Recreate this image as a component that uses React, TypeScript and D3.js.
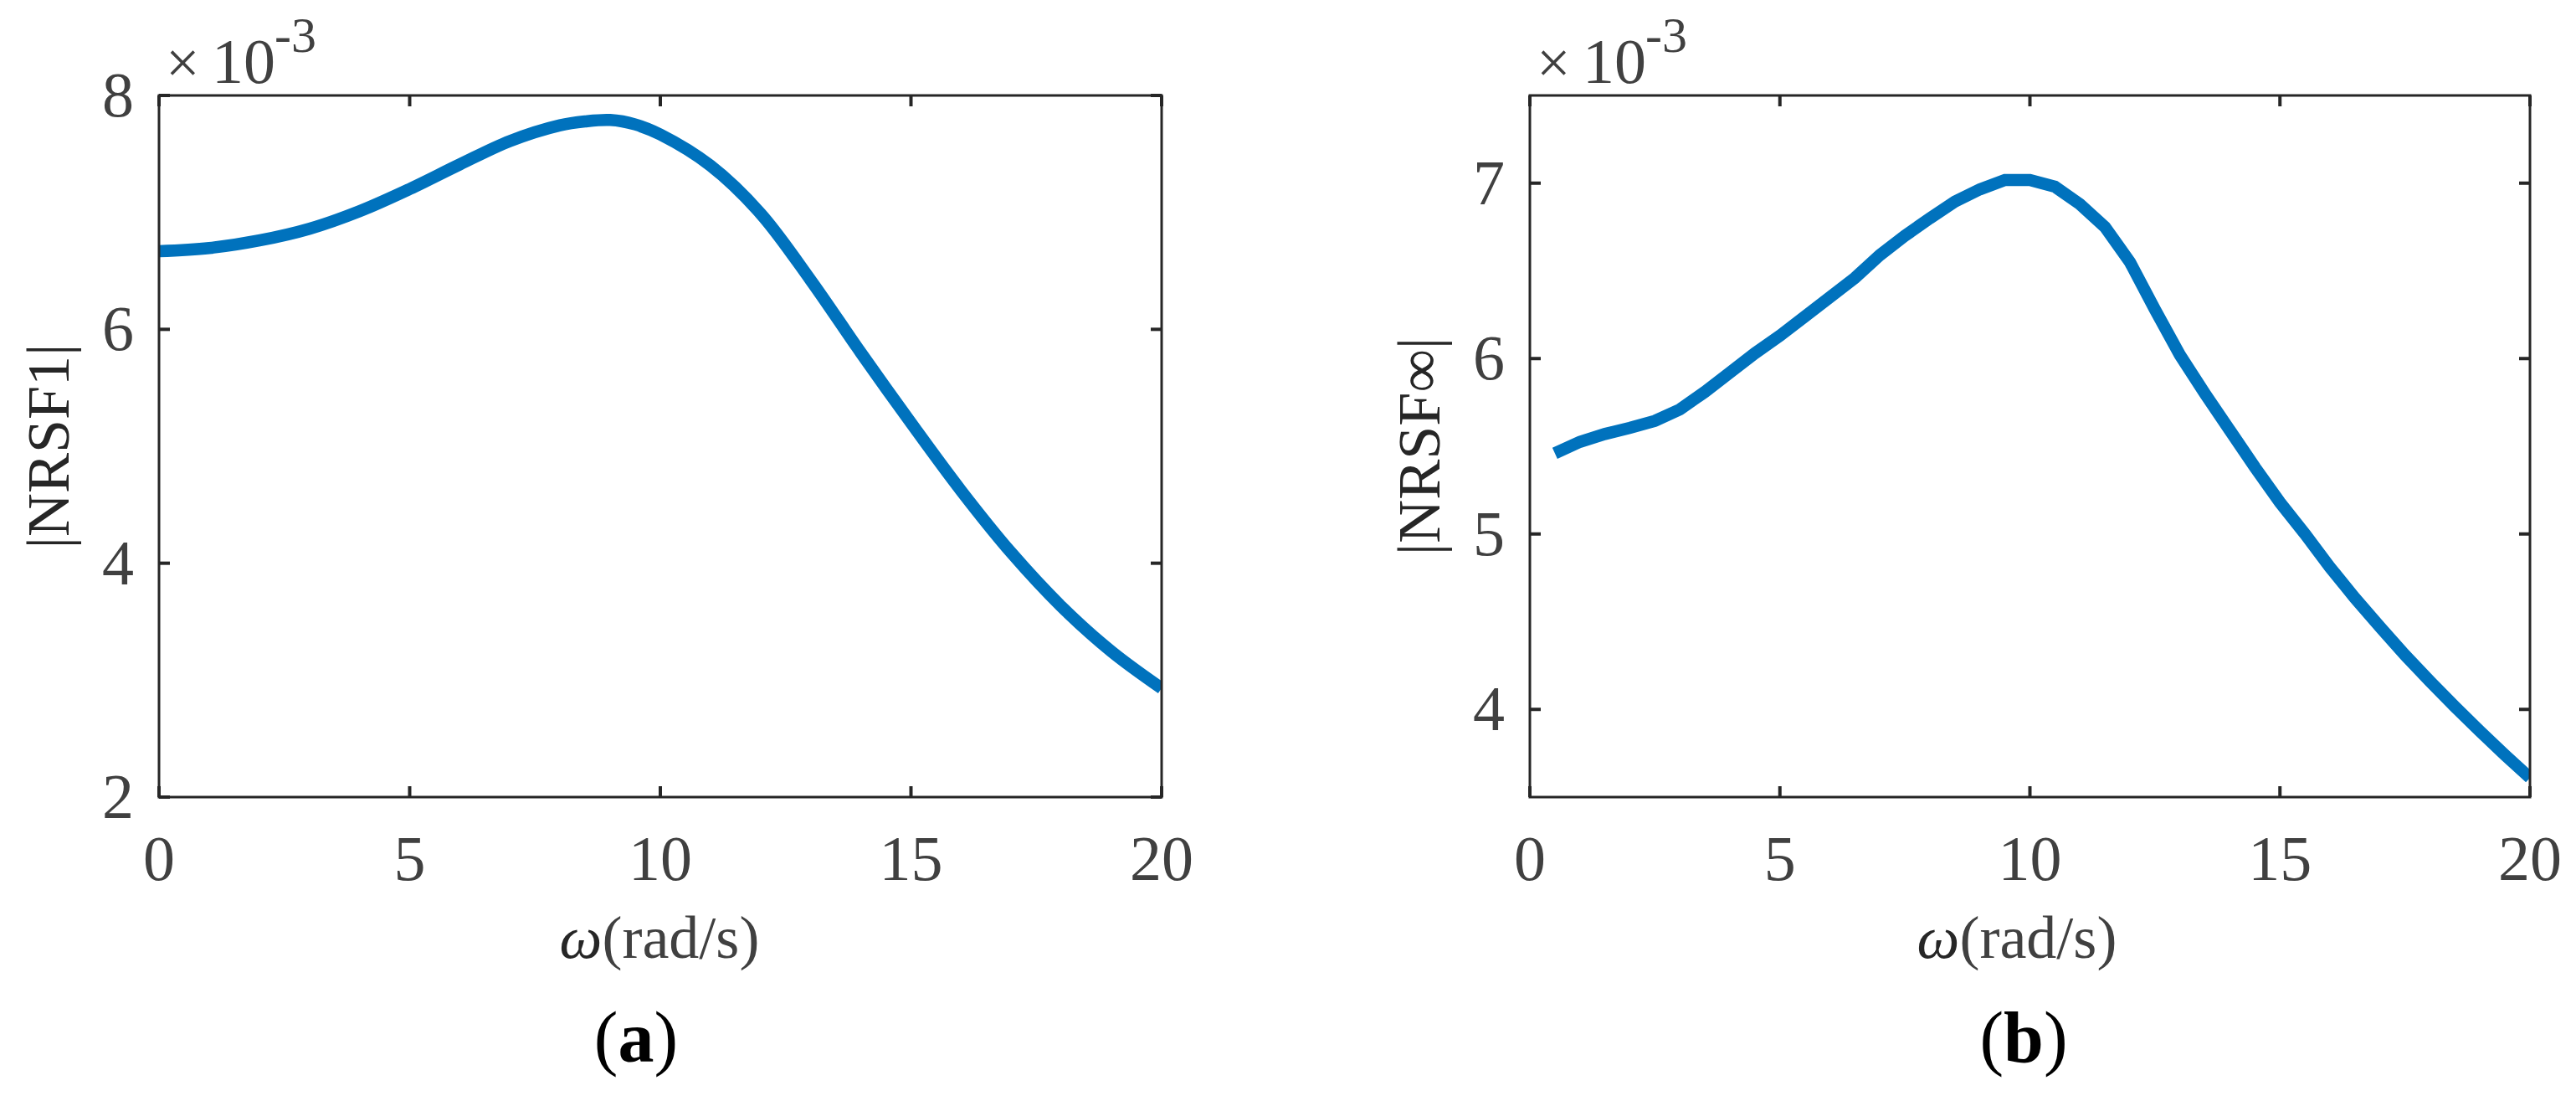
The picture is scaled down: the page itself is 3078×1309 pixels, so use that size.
import React from "react";
import * as d3 from "d3";

// ---- data ----
const omegaA = [0, 1, 2, 3, 4, 5, 6, 7, 8, 8.5, 9, 9.5, 10, 11, 12, 13, 14, 15, 16, 17, 18, 19, 20];
const nrsf1 = [6.668, 6.695, 6.76, 6.86, 7.01, 7.20, 7.41, 7.61, 7.745, 7.778, 7.79, 7.752, 7.666, 7.40, 6.99, 6.42, 5.80, 5.20, 4.62, 4.09, 3.63, 3.245, 2.93];

const omegaB = [0.5, 1, 1.5, 2, 2.5, 3, 3.5, 4, 4.5, 5, 5.5, 6, 6.5, 7, 7.5, 8, 8.5, 9, 9.5, 10, 10.5, 11, 11.5, 12, 12.5, 13, 13.5, 14, 14.5, 15, 15.5, 16, 16.5, 17, 17.5, 18, 18.5, 19, 19.5, 20];
const nrsfInf = [5.46, 5.525, 5.57, 5.605, 5.645, 5.71, 5.81, 5.92, 6.03, 6.13, 6.24, 6.35, 6.46, 6.59, 6.70, 6.80, 6.895, 6.965, 7.018, 7.018, 6.98, 6.88, 6.75, 6.55, 6.28, 6.02, 5.80, 5.59, 5.38, 5.18, 5.00, 4.81, 4.635, 4.47, 4.31, 4.16, 4.015, 3.875, 3.74, 3.61];

const xTicks = [0, 5, 10, 15, 20];
const yTicksA = [2, 4, 6, 8];
const yTicksB = [4, 5, 6, 7];
const yDomainA: [number, number] = [2, 8];
const yDomainB: [number, number] = [3.5, 7.5];
const xDomain: [number, number] = [0, 20];
const yLabelA = "|NRSF1|";
const yLabelB = "|NRSF\u221E|";
const panelTags = ["a", "b"];

const FONT = "'Liberation Serif', 'Times New Roman', serif";
const AXIS = "#262626";
const TXT = "#404040";
const BLUE = "#0072BD";

type PanelProps = {
  left: number; right: number; top: number; bottom: number;
  xs: number[]; ys: number[]; yDomain: [number, number]; yTicks: number[];
  yLabel: string; tag: string; tagX: number; xLabelX: number; curve: any;
};

function Panel(p: PanelProps) {
  const x = d3.scaleLinear().domain(xDomain).range([p.left, p.right]);
  const y = d3.scaleLinear().domain(p.yDomain).range([p.bottom, p.top]);
  const pts = p.xs.map((v, i) => [v, p.ys[i]] as [number, number]);
  const line = d3.line<[number, number]>().x(d => x(d[0])).y(d => y(d[1])).curve(p.curve);
  const tl = 13;
  const cy = (p.top + p.bottom) / 2;
  return (
    <g>
      <defs>
        <clipPath id={"clip" + p.tag}>
          <rect x={p.left} y={p.top} width={p.right - p.left} height={p.bottom - p.top} />
        </clipPath>
      </defs>
      <path d={line(pts) || ""} fill="none" stroke={BLUE} strokeWidth={14.5} clipPath={`url(#clip${p.tag})`} />
      <rect x={p.left} y={p.top} width={p.right - p.left} height={p.bottom - p.top} fill="none" stroke={AXIS} strokeWidth={3} />
      {xTicks.map(t => (
        <g key={"xt" + t}>
          <line x1={x(t)} x2={x(t)} y1={p.bottom} y2={p.bottom - tl} stroke={AXIS} strokeWidth={4} />
          <line x1={x(t)} x2={x(t)} y1={p.top} y2={p.top + tl} stroke={AXIS} strokeWidth={4} />
          <text x={x(t)} y={p.bottom + 99} textAnchor="middle" fontFamily={FONT} fontSize={76} fill={TXT}>{t}</text>
        </g>
      ))}
      {p.yTicks.map(t => (
        <g key={"yt" + t}>
          <line x1={p.left} x2={p.left + tl} y1={y(t)} y2={y(t)} stroke={AXIS} strokeWidth={4} />
          <line x1={p.right} x2={p.right - tl} y1={y(t)} y2={y(t)} stroke={AXIS} strokeWidth={4} />
          <text x={p.left - 30} y={y(t)} dy="0.33em" textAnchor="end" fontFamily={FONT} fontSize={76} fill={TXT}>{t}</text>
        </g>
      ))}
      {/* exponent */}
      <text fontFamily={FONT} fill={TXT}>
        <tspan x={p.left + 8} y={99} fontSize={72}>{"\u00D7"}</tspan>
        <tspan x={p.left + 63} y={99} fontSize={76}>10</tspan>
        <tspan x={p.left + 138} y={62} fontSize={60}>-3</tspan>
      </text>
      {/* y label */}
      <text transform={`translate(${p.left - 108},${cy}) rotate(-90)`} textAnchor="middle" fontFamily={FONT} fontSize={72} fill={AXIS}>{p.yLabel}</text>
      {/* x label */}
      <text x={p.xLabelX} y={p.bottom + 192} textAnchor="middle" fontFamily={FONT} fontSize={72} fill={TXT}>
        <tspan fontStyle="italic" fill={AXIS}>{"\u03C9"}</tspan>
        <tspan>(rad/s)</tspan>
      </text>
      {/* panel tag */}
      <text x={p.tagX} y={1268} textAnchor="middle" fontFamily={FONT} fontSize={86} fill="#000">
        <tspan>(</tspan><tspan fontWeight="bold">{p.tag}</tspan><tspan>)</tspan>
      </text>
    </g>
  );
}

export default function App() {
  return (
    <svg width={3078} height={1309} style={{ position: "absolute", left: 0, top: 0, background: "#fff" }}>
      <rect x={0} y={0} width={3078} height={1309} fill="#fff" />
      <Panel left={190} right={1388} top={114} bottom={952} xs={omegaA} ys={nrsf1}
        yDomain={yDomainA} yTicks={yTicksA} yLabel={yLabelA} tag={panelTags[0]} tagX={760} xLabelX={788}
        curve={d3.curveCatmullRom} />
      <Panel left={1828} right={3023} top={114} bottom={952} xs={omegaB} ys={nrsfInf}
        yDomain={yDomainB} yTicks={yTicksB} yLabel={yLabelB} tag={panelTags[1]} tagX={2418} xLabelX={2410}
        curve={d3.curveLinear} />
    </svg>
  );
}
